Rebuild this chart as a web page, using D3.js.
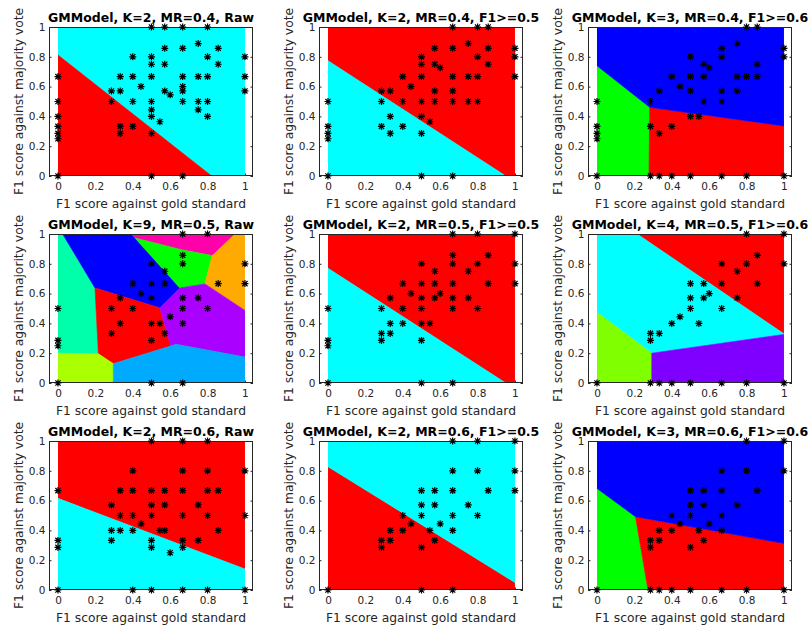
<!DOCTYPE html>
<html>
<head>
<meta charset="utf-8">
<script src="https://cdn.jsdelivr.net/npm/d3@7"></script>
<style>
  body { margin: 0; background: #fff; }
  svg { display: block; font-family: "DejaVu Sans", sans-serif; }
</style>
</head>
<body>
<svg id="chart" width="808" height="627"></svg>
<script>
// titles and number of mixture components per panel
var titles = [
  'GMModel, K=2, MR=0.4, Raw', 'GMModel, K=2, MR=0.4, F1>=0.5', 'GMModel, K=3, MR=0.4, F1>=0.6',
  'GMModel, K=9, MR=0.5, Raw', 'GMModel, K=2, MR=0.5, F1>=0.5', 'GMModel, K=4, MR=0.5, F1>=0.6',
  'GMModel, K=2, MR=0.6, Raw', 'GMModel, K=2, MR=0.6, F1>=0.5', 'GMModel, K=3, MR=0.6, F1>=0.6'
]
var kVals = [2, 2, 3, 9, 2, 4, 2, 2, 3]
var ticks = [0, 0.2, 0.4, 0.6, 0.8, 1]

// [F1 vs gold, F1 vs majority]
var pts1 = [[0.5,1],[0.571,1],[0.667,1],[0.8,1],[0.75,0.889],[0.571,0.857],[0.667,0.857],[0.857,0.857],
  [0.4,0.8],[0.5,0.8],[0.8,0.8],[1,0.8],[0.5,0.75],[0.571,0.75],[0.857,0.75],
  [0,0.667],[0.333,0.667],[0.4,0.667],[0.5,0.667],[0.667,0.667],[0.75,0.667],[0.8,0.667],[1,0.667],
  [0.444,0.6],[0.667,0.6],[0.286,0.571],[0.333,0.571],[0.571,0.571],[0.667,0.571],[1,0.571],[0.6,0.545],
  [0,0.5],[0.286,0.5],[0.4,0.5],[0.5,0.5],[0.667,0.5],[0.75,0.5],[0.8,0.5],[0.5,0.444],[0.75,0.444],
  [0,0.4],[0.5,0.4],[0.8,0.4],[0.545,0.364],[0,0.333],[0.333,0.333],[0.4,0.333],
  [0,0.286],[0.333,0.286],[0.5,0.286],[0,0.25],[0,0],[0.5,0],[0.667,0]]
var pts2 = [[0.667,1],[0.8,1],[0.857,1],[0.75,0.889],[0.571,0.857],[0.667,0.857],[0.857,0.857],[1,0.857],
  [0.5,0.8],[0.8,0.8],[1,0.8],[0.5,0.75],[0.571,0.75],[0.857,0.75],[0.6,0.727],
  [0.4,0.667],[0.5,0.667],[0.667,0.667],[0.75,0.667],[0.8,0.667],[1,0.667],[0.444,0.6],
  [0.286,0.571],[0.333,0.571],[0.571,0.571],[0.667,0.571],
  [0,0.5],[0.286,0.5],[0.4,0.5],[0.5,0.5],[0.571,0.5],[0.667,0.5],[0.75,0.5],[0.8,0.5],
  [0.333,0.4],[0.5,0.4],[0.545,0.364],[0,0.333],[0.286,0.333],[0.4,0.333],
  [0,0.286],[0.333,0.286],[0.5,0.286],[0,0.25],[0,0],[0.5,0],[0.667,0]]
var pts3 = [[0.8,1],[0.857,1],[0.75,0.889],[0.667,0.857],[1,0.857],[0.5,0.8],[0.667,0.8],[1,0.8],
  [0.571,0.75],[0.857,0.75],[0.6,0.727],
  [0.4,0.667],[0.5,0.667],[0.571,0.667],[0.75,0.667],[0.8,0.667],[0.857,0.667],[0.444,0.6],
  [0.333,0.571],[0.5,0.571],[0.667,0.571],[0.75,0.571],[0,0.5],[0.286,0.5],[0.571,0.5],[0.667,0.5],
  [0.5,0.4],[0.545,0.4],[0,0.333],[0.286,0.333],[0.4,0.333],[0,0.286],[0.333,0.286],[0,0.25],
  [0,0],[0.286,0],[0.333,0],[0.4,0],[0.5,0],[0.667,0],[0.8,0],[1,0]]
var pts4 = [[0.667,1],[0.8,1],[0.667,0.857],[0.5,0.8],[0.667,0.8],[1,0.8],[0.571,0.75],
  [0.4,0.667],[0.5,0.667],[0.571,0.667],[0.857,0.667],[1,0.667],[0.444,0.6],
  [0.333,0.571],[0.5,0.571],[0.667,0.571],[0.75,0.571],[0,0.5],[0.286,0.5],[0.4,0.5],[0.667,0.5],[0.8,0.5],
  [0.6,0.444],[0.333,0.4],[0.5,0.4],[0.545,0.4],[0.667,0.4],[0.286,0.333],[0.571,0.333],
  [0,0.286],[0.5,0.286],[0,0.25],[0,0],[0.5,0],[0.667,0]]
var pts5 = [[0.667,1],[0.8,1],[1,1],[0.667,0.857],[0.857,0.857],[0.5,0.8],[0.667,0.8],[0.8,0.8],[1,0.8],
  [0.571,0.75],[0.75,0.75],[0.4,0.667],[0.5,0.667],[0.571,0.667],[0.667,0.667],[0.857,0.667],[1,0.667],
  [0.444,0.6],[0.6,0.6],[0.333,0.571],[0.5,0.571],[0.571,0.571],[0.667,0.571],[0.75,0.571],
  [0,0.5],[0.286,0.5],[0.4,0.5],[0.5,0.5],[0.667,0.5],[0.8,0.5],
  [0.333,0.4],[0.4,0.4],[0.5,0.4],[0.545,0.4],[0.286,0.333],[0.333,0.333],
  [0,0.286],[0.286,0.286],[0.5,0.286],[0,0.25],[0,0],[0.5,0],[0.667,0]]
var pts6 = [[0.8,1],[1,1],[0.857,0.857],[0.667,0.8],[0.8,0.8],[1,0.8],[0.75,0.75],
  [0.5,0.667],[0.571,0.667],[0.667,0.667],[0.857,0.667],[0.6,0.6],[0.5,0.571],[0.571,0.571],[0.75,0.571],
  [0.5,0.5],[0.667,0.5],[0.444,0.444],[0.4,0.4],[0.545,0.4],[0.286,0.333],[0.333,0.333],[0.286,0.286],
  [0,0],[0.286,0],[0.333,0],[0.4,0],[0.5,0],[0.667,0],[0.8,0],[1,0]]
var pts7 = [[0.5,1],[0.667,1],[0.8,1],[0.4,0.8],[0.667,0.8],[0.8,0.8],[1,0.8],
  [0,0.667],[0.333,0.667],[0.4,0.667],[0.5,0.667],[0.571,0.667],[0.667,0.667],[0.8,0.667],[0.857,0.667],
  [0.286,0.571],[0.5,0.571],[0.571,0.571],[0.75,0.571],
  [0.333,0.5],[0.4,0.5],[0.5,0.5],[0.667,0.5],[0.8,0.5],[1,0.5],[0.444,0.444],
  [0.286,0.4],[0.333,0.4],[0.4,0.4],[0.545,0.4],[0.571,0.4],[0.857,0.4],
  [0,0.333],[0.286,0.333],[0.5,0.333],[0.667,0.333],[0.75,0.333],
  [0,0.286],[0.5,0.286],[0.667,0.286],[0.6,0.25],[0,0],[0.4,0],[0.5,0],[0.667,0],[0.8,0],[1,0]]
var pts8 = [[0.667,1],[0.8,1],[1,1],[0.667,0.8],[0.8,0.8],[1,0.8],
  [0.5,0.667],[0.571,0.667],[0.667,0.667],[0.857,0.667],[1,0.667],[0.5,0.571],[0.571,0.571],[0.75,0.571],
  [0.4,0.5],[0.5,0.5],[0.667,0.5],[0.8,0.5],[0.444,0.444],[0.6,0.444],
  [0.333,0.4],[0.4,0.4],[0.545,0.4],[0.667,0.4],[0.286,0.333],[0.333,0.333],[0.571,0.333],
  [0.286,0.286],[0.5,0.286],[0,0],[0.5,0],[0.667,0]]
var pts9 = [[0.8,1],[1,1],[0.667,0.8],[0.8,0.8],[1,0.8],
  [0.5,0.667],[0.571,0.667],[0.667,0.667],[0.857,0.667],[0.5,0.571],[0.571,0.571],[0.75,0.571],
  [0.4,0.5],[0.5,0.5],[0.667,0.5],[0.444,0.444],[0.6,0.444],
  [0.333,0.4],[0.4,0.4],[0.545,0.4],[0.667,0.4],[0.286,0.333],[0.333,0.333],[0.571,0.333],
  [0.286,0.286],[0.5,0.286],[0,0],[0.286,0],[0.333,0],[0.4,0],[0.5,0],[0.667,0],[0.8,0],[1,0]]

// cluster regions: component index k, polygon in data units
var regs1 = [{k:1, p:[[0,0.812],[0,1],[1,1],[1,0],[0.822,0]]}, {k:0, p:[[0,0],[0,0.812],[0.822,0]]}]
var regs2 = [{k:0, p:[[0,0.774],[0,1],[1,1],[1,0],[0.951,0]]}, {k:1, p:[[0,0],[0,0.774],[0.951,0]]}]
var regs3 = [{k:1, p:[[0,0],[0,0.74],[0.282,0.461],[0.278,0]]},
  {k:0, p:[[0.278,0],[0.282,0.461],[1,0.336],[1,0]]},
  {k:2, p:[[0,0.74],[0,1],[1,1],[1,0.336],[0.282,0.461]]}]
var regs4 = [
  {k:4, p:[[0,1],[0.025,1],[0.198,0.638],[0.216,0.196],[0,0.2]]},
  {k:6, p:[[0.025,1],[0.394,1],[0.412,0.973],[0.652,0.638],[0.545,0.504],[0.198,0.638]]},
  {k:8, p:[[0.394,1],[0.947,1],[0.825,0.855],[0.66,0.895],[0.412,0.973]]},
  {k:3, p:[[0.412,0.973],[0.66,0.895],[0.825,0.855],[0.786,0.665],[0.652,0.638]]},
  {k:1, p:[[0.947,1],[1,1],[1,0.487],[0.786,0.665],[0.825,0.855]]},
  {k:0, p:[[0.198,0.638],[0.545,0.504],[0.603,0.248],[0.296,0.13],[0.216,0.196]]},
  {k:7, p:[[0.545,0.504],[0.652,0.638],[0.786,0.665],[1,0.487],[1,0.174],[0.63,0.26],[0.603,0.248]]},
  {k:2, p:[[0,0.2],[0.216,0.196],[0.296,0.13],[0.296,0],[0,0]]},
  {k:5, p:[[0.296,0],[0.296,0.13],[0.603,0.248],[0.63,0.26],[1,0.174],[1,0]]}]
var regs5 = [{k:0, p:[[0,0.77],[0,1],[1,1],[1,0],[0.951,0]]}, {k:1, p:[[0,0],[0,0.77],[0.951,0]]}]
var regs6 = [{k:0, p:[[0.215,1],[1,1],[1,0.33]]},
  {k:2, p:[[0,1],[0.215,1],[1,0.33],[1,0.326],[0.293,0.2],[0,0.475]]},
  {k:1, p:[[0,0],[0,0.475],[0.293,0.2],[0.293,0]]},
  {k:3, p:[[0.293,0],[0.293,0.2],[1,0.326],[1,0]]}]
var regs7 = [{k:0, p:[[0,0.615],[0,1],[1,1],[1,0.141]]}, {k:1, p:[[0,0],[0,0.615],[1,0.141],[1,0]]}]
var regs8 = [{k:0, p:[[0,0],[0,0.828],[1,0.05],[1,0]]}, {k:1, p:[[0,0.828],[0,1],[1,1],[1,0.05]]}]
var regs9 = [{k:1, p:[[0,0],[0,0.682],[0.206,0.492],[0.273,0]]},
  {k:0, p:[[0.273,0],[0.206,0.492],[1,0.313],[1,0]]},
  {k:2, p:[[0,0.682],[0,1],[1,1],[1,0.313],[0.206,0.492]]}]

var pointSets = [pts1, pts2, pts3, pts4, pts5, pts6, pts7, pts8, pts9]
var regionSets = [regs1, regs2, regs3, regs4, regs5, regs6, regs7, regs8, regs9]

var svg = d3.select('#chart')
var colLeft = [49, 319, 588]
  , rowTop = [27, 234, 441]
  , bw = 204
  , bh = 149
  , ink = '#262626'

// matlab hsv(K) colormap
function hsv(k, K) { return d3.hsl(360 * k / K, 1, 0.5).formatHex() }

function star(g, cx, cy) {
  var r = 3.5, d = 2.6
  g.append('path')
    .attr('d', 'M' + (cx - r) + ',' + cy + 'H' + (cx + r) +
               'M' + cx + ',' + (cy - r) + 'V' + (cy + r) +
               'M' + (cx - d) + ',' + (cy - d) + 'L' + (cx + d) + ',' + (cy + d) +
               'M' + (cx - d) + ',' + (cy + d) + 'L' + (cx + d) + ',' + (cy - d))
    .attr('stroke', '#000').attr('stroke-width', 1.2).attr('fill', 'none')
}

titles.forEach(function (title, i) {
  var L = colLeft[i % 3], T = rowTop[Math.floor(i / 3)]
  var x = d3.scaleLinear().domain([-0.048, 1.043]).range([L, L + bw])
  var y = d3.scaleLinear().domain([0, 1]).range([T + bh, T])
  var g = svg.append('g')

  // ticks first (matlab layer = bottom)
  var fmt = d3.format('~g')
  var ax = g.append('g').attr('transform', 'translate(' + L + ',0)')
    .call(d3.axisLeft(y).tickValues(ticks).tickSize(-2.5).tickPadding(3.5).tickFormat(fmt))
  var axr = g.append('g').attr('transform', 'translate(' + (L + bw) + ',0)')
    .call(d3.axisRight(y).tickValues(ticks).tickSize(-2.5).tickFormat(''))
  var axb = g.append('g').attr('transform', 'translate(0,' + (T + bh) + ')')
    .call(d3.axisBottom(x).tickValues(ticks).tickSize(-2.5).tickPadding(6.5).tickFormat(fmt))
  ;[ax, axr, axb].forEach(function (a) {
    a.select('.domain').remove()
    a.selectAll('line').attr('stroke', ink)
    a.selectAll('text').attr('fill', ink).style('font-size', '10.5px')
      .style('font-family', '"DejaVu Sans", sans-serif')
  })

  // decision regions
  var cid = 'clip' + i
  svg.append('clipPath').attr('id', cid).append('rect')
    .attr('x', x(0)).attr('y', y(1)).attr('width', x(1) - x(0)).attr('height', y(0) - y(1))
  var line = d3.line().x(function (d) { return x(d[0]) }).y(function (d) { return y(d[1]) })
  g.append('g').attr('clip-path', 'url(#' + cid + ')')
    .selectAll('path').data(regionSets[i]).enter().append('path')
    .attr('d', function (d) { return line(d.p) + 'Z' })
    .attr('fill', function (d) { return hsv(d.k, kVals[i]) })
    .attr('stroke', function (d) { return hsv(d.k, kVals[i]) })
    .attr('stroke-width', 0.6)

  g.append('rect').attr('x', L + 0.5).attr('y', T + 0.5).attr('width', bw - 1).attr('height', bh - 1)
    .attr('fill', 'none').attr('stroke', ink).attr('stroke-width', 1)

  pointSets[i].forEach(function (d) { star(g, x(d[0]), y(d[1])) })

  g.append('text').attr('x', L + bw / 2).attr('y', T - 5)
    .attr('text-anchor', 'middle').attr('fill', '#000')
    .style('font-size', '12.5px').style('font-weight', 'bold')
    .text(title)
  g.append('text').attr('x', L + bw / 2).attr('y', T + bh + 32)
    .attr('text-anchor', 'middle').attr('fill', ink).style('font-size', '12.3px')
    .text('F1 score against gold standard')
  g.append('text')
    .attr('transform', 'translate(' + (L - 26) + ',' + (T + bh / 2) + ') rotate(-90)')
    .attr('text-anchor', 'middle').attr('fill', ink).style('font-size', '12.3px')
    .text('F1 score against majority vote')
})
</script>
</body>
</html>
